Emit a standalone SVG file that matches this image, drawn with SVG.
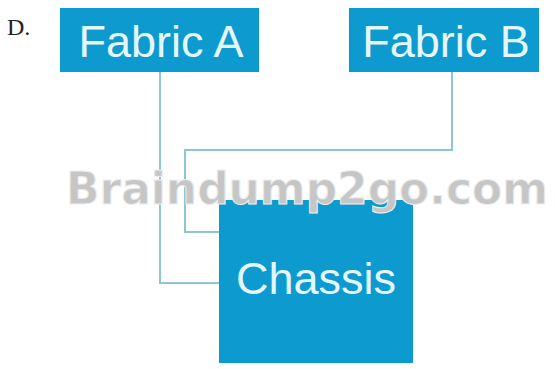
<svg xmlns="http://www.w3.org/2000/svg" width="555" height="369" viewBox="0 0 555 369">
<style>
.box{fill:#0d9bcf}
.lbl{font-family:"Liberation Sans",Arial,sans-serif;fill:#e6f7fb}
.conn{fill:none;stroke:#8ac6d3;stroke-width:2}
.wm{font-family:"DejaVu Sans","Liberation Sans",sans-serif;font-weight:bold;fill:#c6c6c6;stroke:#eeeeee;stroke-width:1}
</style>
<rect width="555" height="369" fill="#ffffff"/>
<text x="7" y="35" font-family="Liberation Serif,serif" font-size="24" fill="#222">D.</text>
<g id="connectors">
<polyline class="conn" points="160,72 160,283 220,283"/>
<polyline class="conn" points="452,72 452,150 185,150 185,232 220,232"/>
</g>
<g id="fabricA">
<rect class="box" x="60" y="8" width="199" height="64"/>
<text class="lbl" x="161" y="57" font-size="45" text-anchor="middle">Fabric A</text>
</g>
<g id="fabricB">
<rect class="box" x="349" y="8" width="190" height="64"/>
<text class="lbl" x="446" y="57" font-size="45" text-anchor="middle">Fabric B</text>
</g>
<g id="chassis">
<rect class="box" x="219" y="200" width="194" height="163"/>
<text class="lbl" x="316" y="294" font-size="45" text-anchor="middle">Chassis</text>
</g>
<text class="wm" x="66" y="204" font-size="44" textLength="482" lengthAdjust="spacingAndGlyphs">Braindump2go.com</text>
</svg>
